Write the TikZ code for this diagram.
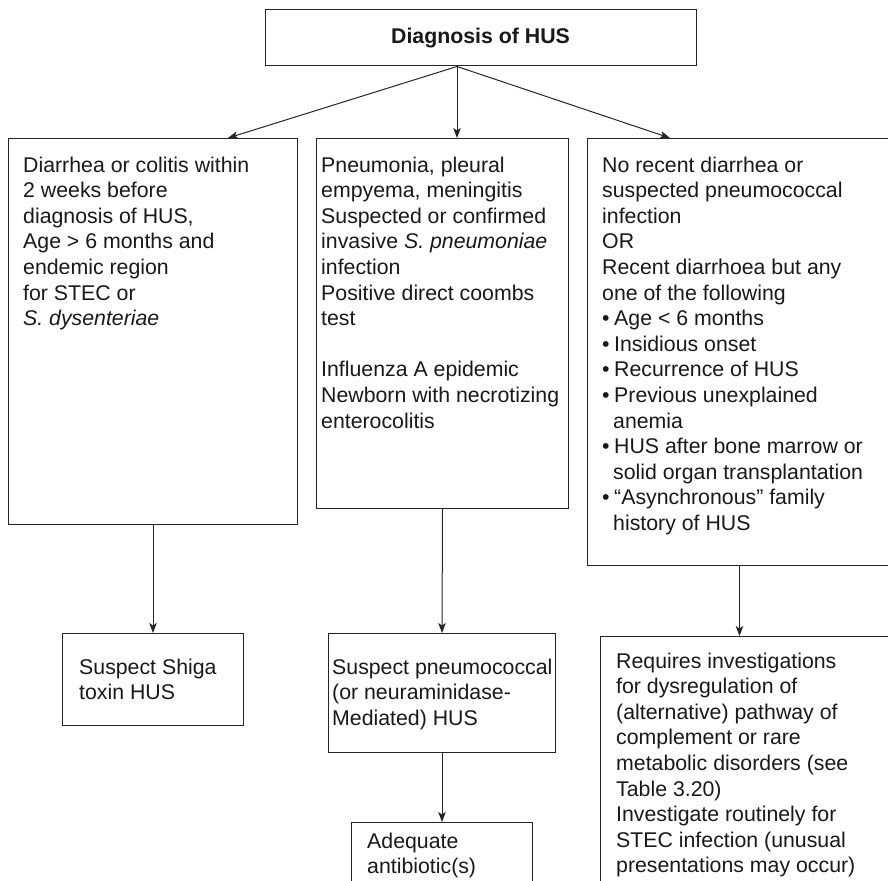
\documentclass[tikz,border=0pt]{standalone}
\usepackage{fontspec}
\setmainfont{Liberation Sans}
\usetikzlibrary{arrows.meta,calc}
\newcommand{\fsz}{\fontsize{21.3}{25.6}\selectfont}
\newcommand{\bl}{\makebox[12pt][l]{\textbullet}}
\newcommand{\ind}{\hspace*{11pt}}
\begin{document}
\begin{tikzpicture}[x=1pt,y=1pt,
  box/.style={draw=black!85, line width=1pt, rectangle, inner sep=0pt, anchor=north west},
  txt/.style={anchor=base west, inner sep=0pt, font=\fsz, text=black!90},
  arr/.style={draw=black!85, line width=1pt, -{Stealth[length=10pt,width=7.5pt,inset=2.5pt]}}]
\useasboundingbox (0,0) rectangle (888,-880);
\clip (0,0) rectangle (888,-880);
\fill[white] (0,0) rectangle (888,-880);
% top box
\node[draw=black!85, line width=1pt, minimum width=431pt, minimum height=56pt, inner sep=0pt, font=\fsz\bfseries, text=black!90] (top) at (480.5,-38) {Diagnosis of HUS};
\coordinate (topout) at ([xshift=-23.5pt]top.south);
% second row boxes
\node[box, minimum width=289pt, minimum height=386pt] (lbox) at (8,-138) {};
\node[box, minimum width=252pt, minimum height=370pt] (mbox) at (316,-138) {};
\node[box, minimum width=304pt, minimum height=427pt] (rbox) at (587,-138) {};
% third row boxes
\node[box, minimum width=181pt, minimum height=92pt] (shiga) at (62,-633) {};
\node[box, minimum width=227pt, minimum height=119pt] (pneu) at (328,-633) {};
\node[box, minimum width=181pt, minimum height=90pt] (adeq) at (351,-822) {};
\node[box, minimum width=300pt, minimum height=270pt] (req) at (600,-636) {};
% texts
\node[txt] (ltext) at (23,-172) {\parbox[t]{270pt}{Diarrhea or colitis within\\
2 weeks before\\
diagnosis of HUS,\\
Age > 6 months and\\
endemic region\\
for STEC or\\
\textit{S. dysenteriae}}};
\node[txt] (mtext) at (321,-172) {\parbox[t]{245pt}{Pneumonia, pleural\\
empyema, meningitis\\
Suspected or confirmed\\
invasive \textit{S. pneumoniae}\\
infection\\
Positive direct coombs\\
test\\
\mbox{}\\
Influenza A epidemic\\
Newborn with necrotizing\\
enterocolitis}};
\node[txt] (rtext) at (602,-172) {\parbox[t]{280pt}{No recent diarrhea or\\
suspected pneumococcal\\
infection\\
OR\\
Recent diarrhoea but any\\
one of the following\\
\bl Age < 6 months\\
\bl Insidious onset\\
\bl Recurrence of HUS\\
\bl Previous unexplained\\
\ind anemia\\
\bl HUS after bone marrow or\\
\ind solid organ transplantation\\
\bl “Asynchronous” family\\
\ind history of HUS}};
\node[txt] (stext) at (79,-674) {\parbox[t]{160pt}{Suspect Shiga\\
toxin HUS}};
\node[txt] (ptext) at (332,-674) {\parbox[t]{225pt}{Suspect pneumococcal\\
(or neuraminidase-\\
Mediated) HUS}};
\node[txt] (atext) at (367,-848) {\parbox[t]{160pt}{Adequate\\
antibiotic(s)}};
\node[txt] (qtext) at (616,-668) {\parbox[t]{270pt}{Requires investigations\\
for dysregulation of\\
(alternative) pathway of\\
complement or rare\\
metabolic disorders (see\\
Table 3.20)\\
Investigate routinely for\\
STEC infection (unusual\\
presentations may occur)}};
% connectors
\draw[arr] (topout) -- ([xshift=-70pt]lbox.north east);
\draw[arr] (topout) -- (topout |- mbox.north);
\draw[arr] (topout) -- ([xshift=83pt]rbox.north west);
\draw[arr] (lbox.south) -- (shiga.north);
\draw[arr] (mbox.south) -- (pneu.north);
\draw[arr] (pneu.south) -- (adeq.north);
\draw[arr] (rbox.south) -- (rbox.south |- req.north);
\end{tikzpicture}
\end{document}
